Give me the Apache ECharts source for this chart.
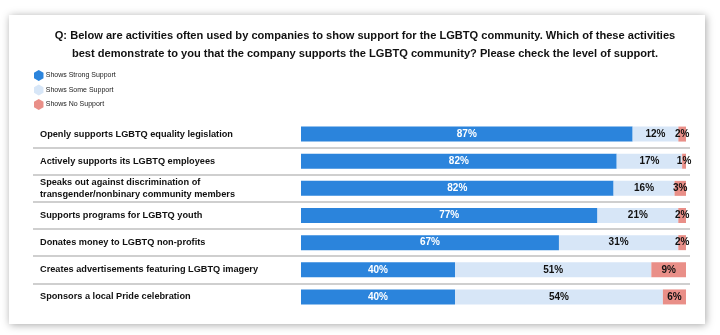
<!DOCTYPE html>
<html>
<head>
<meta charset="utf-8">
<script src="https://cdn.jsdelivr.net/npm/echarts@6/dist/echarts.min.js"></script>
<style>
  html, body { margin: 0; padding: 0; background: #ffffff; }
  #chart { width: 720px; height: 335px; }
</style>
</head>
<body>
<div id="chart"></div>
<script>
// Survey activities, top row first
const categories = [
  'Openly supports LGBTQ equality legislation',
  'Actively supports its LGBTQ employees',
  'Speaks out against discrimination of\ntransgender/nonbinary community members',
  'Supports programs for LGBTQ youth',
  'Donates money to LGBTQ non-profits',
  'Creates advertisements featuring LGBTQ imagery',
  'Sponsors a local Pride celebration'
];
const strongSupport = [87, 82, 82, 77, 67, 40, 40];
const someSupport   = [12, 17, 16, 21, 31, 51, 54];
const noSupport     = [2, 1, 3, 2, 2, 9, 6];
const seriesNames = ['Shows Strong Support', 'Shows Some Support', 'Shows No Support'];

const titleText = 'Q: Below are activities often used by companies to show support for the LGBTQ community. Which of these activities\nbest demonstrate to you that the company supports the LGBTQ community? Please check the level of support.';

const FONT = '"Liberation Sans", Arial, sans-serif';
const colors = ['#2b84dc', '#d7e6f7', '#e98f88'];

// Each row is drawn as a 100% stack; labels keep the surveyed percentage
const rowTotals = categories.map((_, i) => strongSupport[i] + someSupport[i] + noSupport[i]);
function shares(arr) {
  return arr.map((v, i) => ({ value: v / rowTotals[i] * 100, raw: v }));
}

const hexagon = 'path://M5,0 L10,2.9 L10,8.7 L5,11.6 L0,8.7 L0,2.9 Z';

// Row geometry: 7 bands between top and bottom of the plot
const plotTop = 120.5, plotBottom = 24.5, plotHeight = 335 - plotTop - plotBottom;
const band = plotHeight / categories.length;

const chart = echarts.init(document.getElementById('chart'), null, { renderer: 'canvas' });

const labelCommon = {
  show: true,
  position: 'inside',
  fontFamily: FONT,
  fontWeight: 'bold',
  fontSize: 10,
  formatter: p => p.data.raw + '%'
};

chart.setOption({
  animation: false,
  backgroundColor: '#ffffff',
  graphic: [{
    type: 'rect',
    shape: { x: 9, y: 15, width: 696, height: 309 },
    style: { fill: '#ffffff', shadowBlur: 8, shadowColor: 'rgba(0,0,0,0.35)', shadowOffsetX: 1, shadowOffsetY: 1 },
    z: -10
  }],
  title: {
    text: titleText,
    left: 360,
    top: 22,
    textAlign: 'center',
    textStyle: {
      fontFamily: FONT,
      fontWeight: 'bold',
      fontSize: 11.1,
      lineHeight: 18,
      color: '#111111'
    }
  },
  legend: {
    data: seriesNames,
    orient: 'vertical',
    left: 29,
    top: 65,
    itemWidth: 10,
    itemHeight: 11,
    itemGap: 3.5,
    icon: hexagon,
    textStyle: { fontFamily: FONT, fontSize: 7, color: '#222222', padding: [0, 0, 0, -3] }
  },
  grid: [
    { left: 301, right: 34, top: plotTop, bottom: plotBottom },
    // inner row boundaries only: first to last separator
    { left: 33, right: 30, top: plotTop + band, bottom: plotBottom + band }
  ],
  xAxis: [
    { type: 'value', gridIndex: 0, min: 0, max: 100, show: false },
    { type: 'value', gridIndex: 1, min: 0, max: 100, show: false }
  ],
  yAxis: [
    {
      type: 'category',
      gridIndex: 0,
      inverse: true,
      data: categories,
      axisLine: { show: false },
      axisTick: { show: false },
      splitLine: { show: false },
      axisLabel: {
        align: 'left',
        margin: 261,
        fontFamily: FONT,
        fontWeight: 'bold',
        fontSize: 9.2,
        lineHeight: 12,
        color: '#111111'
      }
    },
    {
      // row separators across the card
      type: 'category',
      gridIndex: 1,
      inverse: true,
      data: categories.slice(1, -1),
      axisLine: { show: false },
      axisTick: { show: false },
      axisLabel: { show: false },
      splitLine: {
        show: true,
        interval: 0,
        lineStyle: { color: '#cfcfcf', width: 2 }
      }
    }
  ],
  series: [
    {
      name: seriesNames[0], type: 'bar', stack: 'total', barWidth: 15,
      xAxisIndex: 0, yAxisIndex: 0,
      itemStyle: { color: colors[0] },
      label: Object.assign({}, labelCommon, { color: '#ffffff' }),
      data: shares(strongSupport)
    },
    {
      name: seriesNames[1], type: 'bar', stack: 'total', barWidth: 15,
      xAxisIndex: 0, yAxisIndex: 0,
      itemStyle: { color: colors[1] },
      label: Object.assign({}, labelCommon, { color: '#111111' }),
      data: shares(someSupport)
    },
    {
      name: seriesNames[2], type: 'bar', stack: 'total', barWidth: 15,
      xAxisIndex: 0, yAxisIndex: 0,
      itemStyle: { color: colors[2] },
      label: Object.assign({}, labelCommon, { color: '#111111' }),
      data: shares(noSupport)
    }
  ]
});
</script>
</body>
</html>
